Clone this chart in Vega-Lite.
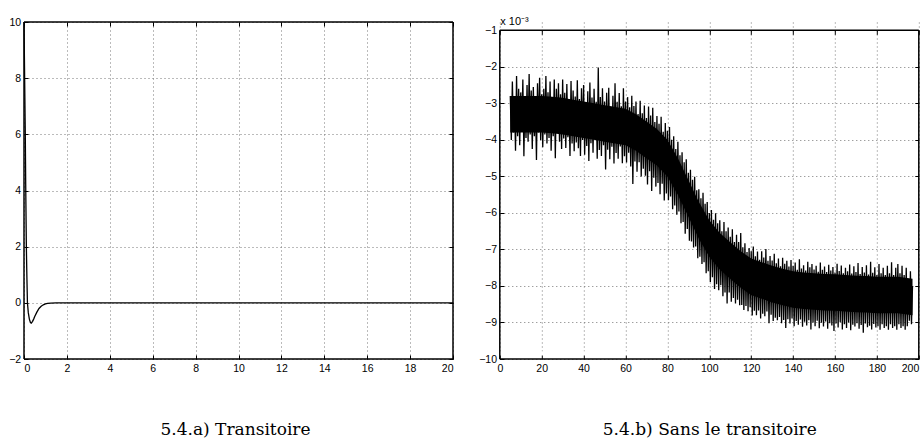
{
  "$schema": "https://vega.github.io/schema/vega-lite/v6.json",
  "background": "white",
  "padding": {"left": 8, "top": 15, "right": 3, "bottom": 0},
  "config": {
    "view": {"stroke": null},
    "axis": {
      "labelFont": "Liberation Sans", "labelFontSize": 10.5, "labelColor": "#000",
      "tickColor": "#000", "tickSize": -4, "tickWidth": 1, "domain": false,
      "gridColor": "#777", "gridDash": [1, 3], "gridWidth": 1,
      "titleFont": "DejaVu Serif", "titleFontSize": 17, "titleFontWeight": "normal", "titleColor": "#000"
    },
    "rule": {"color": "#000", "strokeWidth": 1.5},
    "concat": {"spacing": 21.8}
  },
  "datasets": {
    "transient": [
      {"t": 0, "v": 10}, {"t": 0.03, "v": 8}, {"t": 0.06, "v": 6}, {"t": 0.08, "v": 4.2},
      {"t": 0.11, "v": 2}, {"t": 0.135, "v": 0.9}, {"t": 0.16, "v": 0}, {"t": 0.2, "v": -0.35},
      {"t": 0.25, "v": -0.58}, {"t": 0.3, "v": -0.7}, {"t": 0.34, "v": -0.72}, {"t": 0.4, "v": -0.66},
      {"t": 0.45, "v": -0.58}, {"t": 0.5, "v": -0.49}, {"t": 0.6, "v": -0.33}, {"t": 0.7, "v": -0.2},
      {"t": 0.8, "v": -0.12}, {"t": 0.9, "v": -0.07}, {"t": 1.0, "v": -0.04}, {"t": 1.1, "v": -0.02},
      {"t": 1.25, "v": -0.008}, {"t": 1.5, "v": -0.002}, {"t": 2, "v": 0}, {"t": 20, "v": 0}
    ],
    "core": [
      {"t": 5, "hi": -2.80, "lo": -3.80}, {"t": 10, "hi": -2.80, "lo": -3.80}, {"t": 15, "hi": -2.80, "lo": -3.80},
      {"t": 20, "hi": -2.80, "lo": -3.80}, {"t": 25, "hi": -2.82, "lo": -3.82}, {"t": 30, "hi": -2.85, "lo": -3.85},
      {"t": 35, "hi": -2.90, "lo": -3.90}, {"t": 40, "hi": -2.95, "lo": -3.95}, {"t": 45, "hi": -3.00, "lo": -4.00},
      {"t": 50, "hi": -3.05, "lo": -4.05}, {"t": 55, "hi": -3.10, "lo": -4.10}, {"t": 60, "hi": -3.15, "lo": -4.15},
      {"t": 65, "hi": -3.30, "lo": -4.30}, {"t": 70, "hi": -3.50, "lo": -4.50}, {"t": 75, "hi": -3.70, "lo": -4.70},
      {"t": 80, "hi": -4.00, "lo": -5.00}, {"t": 85, "hi": -4.50, "lo": -5.50}, {"t": 90, "hi": -5.10, "lo": -6.10},
      {"t": 95, "hi": -5.70, "lo": -6.70}, {"t": 100, "hi": -6.20, "lo": -7.20}, {"t": 105, "hi": -6.55, "lo": -7.55},
      {"t": 110, "hi": -6.80, "lo": -7.80}, {"t": 115, "hi": -7.05, "lo": -8.05}, {"t": 120, "hi": -7.25, "lo": -8.25},
      {"t": 125, "hi": -7.35, "lo": -8.35}, {"t": 130, "hi": -7.45, "lo": -8.45}, {"t": 135, "hi": -7.53, "lo": -8.53},
      {"t": 140, "hi": -7.60, "lo": -8.60}, {"t": 145, "hi": -7.63, "lo": -8.63}, {"t": 150, "hi": -7.65, "lo": -8.65},
      {"t": 155, "hi": -7.67, "lo": -8.67}, {"t": 160, "hi": -7.68, "lo": -8.68}, {"t": 165, "hi": -7.70, "lo": -8.70},
      {"t": 170, "hi": -7.72, "lo": -8.72}, {"t": 175, "hi": -7.73, "lo": -8.73}, {"t": 180, "hi": -7.75, "lo": -8.75},
      {"t": 185, "hi": -7.75, "lo": -8.75}, {"t": 190, "hi": -7.75, "lo": -8.75}, {"t": 197, "hi": -7.80, "lo": -8.80}
    ],
    "noise": [
      {"t": 5, "v": -2.80}, {"t": 5.5, "v": -4.00}, {"t": 6, "v": -2.40}, {"t": 6.5, "v": -3.80}, {"t": 7, "v": -2.85},
      {"t": 7.5, "v": -4.30}, {"t": 8, "v": -2.25}, {"t": 8.5, "v": -3.90}, {"t": 9, "v": -2.60}, {"t": 9.5, "v": -4.15},
      {"t": 10, "v": -2.70}, {"t": 10.5, "v": -3.75}, {"t": 11, "v": -2.35}, {"t": 11.5, "v": -4.45}, {"t": 12, "v": -2.80},
      {"t": 12.5, "v": -3.95}, {"t": 13, "v": -2.50}, {"t": 13.5, "v": -4.05}, {"t": 14, "v": -2.20}, {"t": 14.5, "v": -3.85},
      {"t": 15, "v": -2.65}, {"t": 15.5, "v": -4.25}, {"t": 16, "v": -2.55}, {"t": 16.5, "v": -3.90}, {"t": 17, "v": -2.90},
      {"t": 17.5, "v": -4.55}, {"t": 18, "v": -2.45}, {"t": 18.5, "v": -3.80}, {"t": 19, "v": -2.30}, {"t": 19.5, "v": -4.00},
      {"t": 20, "v": -2.75}, {"t": 20.5, "v": -4.20}, {"t": 21, "v": -2.60}, {"t": 21.5, "v": -3.85}, {"t": 22, "v": -2.25},
      {"t": 22.5, "v": -4.10}, {"t": 23, "v": -2.70}, {"t": 23.5, "v": -3.95}, {"t": 24, "v": -2.40}, {"t": 24.5, "v": -4.30},
      {"t": 25, "v": -2.85}, {"t": 25.5, "v": -3.90}, {"t": 26, "v": -2.35}, {"t": 26.5, "v": -4.50}, {"t": 27, "v": -2.60},
      {"t": 27.5, "v": -3.75}, {"t": 28, "v": -2.45}, {"t": 28.5, "v": -4.05}, {"t": 29, "v": -2.75}, {"t": 29.5, "v": -4.25},
      {"t": 30, "v": -2.35}, {"t": 30.5, "v": -3.96}, {"t": 31, "v": -2.71}, {"t": 31.5, "v": -4.22}, {"t": 32, "v": -2.47},
      {"t": 32.5, "v": -3.93}, {"t": 33, "v": -2.88}, {"t": 33.5, "v": -4.44}, {"t": 34, "v": -2.39}, {"t": 34.5, "v": -4.10},
      {"t": 35, "v": -2.65}, {"t": 35.5, "v": -4.31}, {"t": 36, "v": -2.81}, {"t": 36.5, "v": -4.07}, {"t": 37, "v": -2.37},
      {"t": 37.5, "v": -4.23}, {"t": 38, "v": -2.88}, {"t": 38.5, "v": -4.44}, {"t": 39, "v": -2.59}, {"t": 39.5, "v": -4.00},
      {"t": 40, "v": -2.50}, {"t": 40.5, "v": -4.41}, {"t": 41, "v": -3.01}, {"t": 41.5, "v": -4.17}, {"t": 42, "v": -2.67},
      {"t": 42.5, "v": -4.58}, {"t": 43, "v": -2.43}, {"t": 43.5, "v": -4.09}, {"t": 44, "v": -2.84}, {"t": 44.5, "v": -4.35},
      {"t": 45, "v": -2.60}, {"t": 45.5, "v": -4.01}, {"t": 46, "v": -2.96}, {"t": 46.5, "v": -4.52}, {"t": 47, "v": -2.02},
      {"t": 47.5, "v": -4.28}, {"t": 48, "v": -2.83}, {"t": 48.5, "v": -4.44}, {"t": 49, "v": -2.59}, {"t": 49.5, "v": -4.15},
      {"t": 50, "v": -2.95}, {"t": 50.5, "v": -4.81}, {"t": 51, "v": -2.71}, {"t": 51.5, "v": -4.27}, {"t": 52, "v": -2.57},
      {"t": 52.5, "v": -4.53}, {"t": 53, "v": -3.08}, {"t": 53.5, "v": -4.19}, {"t": 54, "v": -2.79}, {"t": 54.5, "v": -4.65},
      {"t": 55, "v": -2.45}, {"t": 55.5, "v": -4.36}, {"t": 56, "v": -2.96}, {"t": 56.5, "v": -4.52}, {"t": 57, "v": -2.72},
      {"t": 57.5, "v": -4.18}, {"t": 58, "v": -3.08}, {"t": 58.5, "v": -4.64}, {"t": 59, "v": -2.59}, {"t": 59.5, "v": -4.45},
      {"t": 60, "v": -2.95}, {"t": 60.5, "v": -4.62}, {"t": 61, "v": -2.83}, {"t": 61.5, "v": -4.35}, {"t": 62, "v": -3.11},
      {"t": 62.5, "v": -4.73}, {"t": 63, "v": -2.79}, {"t": 63.5, "v": -5.21}, {"t": 64, "v": -3.07}, {"t": 64.5, "v": -4.59},
      {"t": 65, "v": -2.95}, {"t": 65.5, "v": -4.87}, {"t": 66, "v": -3.29}, {"t": 66.5, "v": -4.61}, {"t": 67, "v": -2.93},
      {"t": 67.5, "v": -5.00}, {"t": 68, "v": -3.27}, {"t": 68.5, "v": -4.79}, {"t": 69, "v": -3.06}, {"t": 69.5, "v": -4.98},
      {"t": 70, "v": -3.40}, {"t": 70.5, "v": -5.22}, {"t": 71, "v": -3.09}, {"t": 71.5, "v": -4.86}, {"t": 72, "v": -3.33},
      {"t": 72.5, "v": -5.40}, {"t": 73, "v": -3.12}, {"t": 73.5, "v": -5.04}, {"t": 74, "v": -3.51}, {"t": 74.5, "v": -5.28},
      {"t": 75, "v": -3.35}, {"t": 75.5, "v": -5.18}, {"t": 76, "v": -3.56}, {"t": 76.5, "v": -5.49}, {"t": 77, "v": -3.37},
      {"t": 77.5, "v": -5.20}, {"t": 78, "v": -3.78}, {"t": 78.5, "v": -5.66}, {"t": 79, "v": -3.54}, {"t": 79.5, "v": -5.47},
      {"t": 80, "v": -3.75}, {"t": 80.5, "v": -5.65}, {"t": 81, "v": -3.65}, {"t": 81.5, "v": -5.55}, {"t": 82, "v": -4.00},
      {"t": 82.5, "v": -5.90}, {"t": 83, "v": -3.90}, {"t": 83.5, "v": -5.80}, {"t": 84, "v": -4.25}, {"t": 84.5, "v": -6.05},
      {"t": 85, "v": -4.05}, {"t": 85.5, "v": -5.96}, {"t": 86, "v": -4.42}, {"t": 86.5, "v": -6.28}, {"t": 87, "v": -4.34},
      {"t": 87.5, "v": -6.25}, {"t": 88, "v": -4.61}, {"t": 88.5, "v": -6.57}, {"t": 89, "v": -4.53}, {"t": 89.5, "v": -6.44},
      {"t": 90, "v": -4.90}, {"t": 90.5, "v": -6.76}, {"t": 91, "v": -4.82}, {"t": 91.5, "v": -6.78}, {"t": 92, "v": -5.09},
      {"t": 92.5, "v": -6.95}, {"t": 93, "v": -5.01}, {"t": 93.5, "v": -6.92}, {"t": 94, "v": -5.38}, {"t": 94.5, "v": -7.24},
      {"t": 95, "v": -5.35}, {"t": 95.5, "v": -7.20}, {"t": 96, "v": -5.60}, {"t": 96.5, "v": -7.40}, {"t": 97, "v": -5.45},
      {"t": 97.5, "v": -7.35}, {"t": 98, "v": -5.75}, {"t": 98.5, "v": -7.65}, {"t": 99, "v": -5.70}, {"t": 99.5, "v": -7.60},
      {"t": 100, "v": -6.00}, {"t": 100.5, "v": -7.89}, {"t": 101, "v": -5.92}, {"t": 101.5, "v": -7.76}, {"t": 102, "v": -6.19},
      {"t": 102.5, "v": -8.08}, {"t": 103, "v": -6.01}, {"t": 103.5, "v": -7.95}, {"t": 104, "v": -6.28}, {"t": 104.5, "v": -8.12},
      {"t": 105, "v": -6.20}, {"t": 105.5, "v": -7.98}, {"t": 106, "v": -6.50}, {"t": 106.5, "v": -8.28}, {"t": 107, "v": -6.25},
      {"t": 107.5, "v": -8.18}, {"t": 108, "v": -6.50}, {"t": 108.5, "v": -8.48}, {"t": 109, "v": -6.40}, {"t": 109.5, "v": -8.18},
      {"t": 110, "v": -6.65}, {"t": 110.5, "v": -8.43}, {"t": 111, "v": -6.45}, {"t": 111.5, "v": -8.33}, {"t": 112, "v": -6.80},
      {"t": 112.5, "v": -8.48}, {"t": 113, "v": -6.60}, {"t": 113.5, "v": -8.38}, {"t": 114, "v": -6.80}, {"t": 114.5, "v": -8.53},
      {"t": 115, "v": -6.55}, {"t": 115.5, "v": -8.52}, {"t": 116, "v": -6.94}, {"t": 116.5, "v": -8.66}, {"t": 117, "v": -6.83},
      {"t": 117.5, "v": -8.55}, {"t": 118, "v": -7.07}, {"t": 118.5, "v": -8.69}, {"t": 119, "v": -6.96}, {"t": 119.5, "v": -8.58},
      {"t": 120, "v": -7.05}, {"t": 120.5, "v": -8.81}, {"t": 121, "v": -6.92}, {"t": 121.5, "v": -8.68}, {"t": 122, "v": -7.19},
      {"t": 122.5, "v": -8.80}, {"t": 123, "v": -7.06}, {"t": 123.5, "v": -8.67}, {"t": 124, "v": -7.28}, {"t": 124.5, "v": -8.89},
      {"t": 125, "v": -7.05}, {"t": 125.5, "v": -8.76}, {"t": 126, "v": -7.22}, {"t": 126.5, "v": -8.83}, {"t": 127, "v": -6.99},
      {"t": 127.5, "v": -8.70}, {"t": 128, "v": -7.31}, {"t": 128.5, "v": -9.02}, {"t": 129, "v": -7.18}, {"t": 129.5, "v": -8.79},
      {"t": 130, "v": -7.30}, {"t": 130.5, "v": -8.96}, {"t": 131, "v": -7.12}, {"t": 131.5, "v": -8.87}, {"t": 132, "v": -7.38},
      {"t": 132.5, "v": -8.94}, {"t": 133, "v": -7.25}, {"t": 133.5, "v": -8.85}, {"t": 134, "v": -7.46}, {"t": 134.5, "v": -9.02},
      {"t": 135, "v": -7.23}, {"t": 135.5, "v": -8.93}, {"t": 136, "v": -7.39}, {"t": 136.5, "v": -9.15}, {"t": 137, "v": -7.31},
      {"t": 137.5, "v": -8.91}, {"t": 138, "v": -7.47}, {"t": 138.5, "v": -9.03}, {"t": 139, "v": -7.29}, {"t": 139.5, "v": -8.89},
      {"t": 140, "v": -7.45}, {"t": 140.5, "v": -9.10}, {"t": 141, "v": -7.36}, {"t": 141.5, "v": -8.96}, {"t": 142, "v": -7.56},
      {"t": 142.5, "v": -9.06}, {"t": 143, "v": -7.27}, {"t": 143.5, "v": -8.92}, {"t": 144, "v": -7.52}, {"t": 144.5, "v": -9.12},
      {"t": 145, "v": -7.43}, {"t": 145.5, "v": -8.98}, {"t": 146, "v": -7.58}, {"t": 146.5, "v": -9.08}, {"t": 147, "v": -7.34},
      {"t": 147.5, "v": -8.94}, {"t": 148, "v": -7.49}, {"t": 148.5, "v": -9.19}, {"t": 149, "v": -7.40}, {"t": 149.5, "v": -9.00},
      {"t": 150, "v": -7.55}, {"t": 150.5, "v": -9.10}, {"t": 151, "v": -7.45}, {"t": 151.5, "v": -8.95}, {"t": 152, "v": -7.61},
      {"t": 152.5, "v": -9.16}, {"t": 153, "v": -7.36}, {"t": 153.5, "v": -9.01}, {"t": 154, "v": -7.56}, {"t": 154.5, "v": -9.11},
      {"t": 155, "v": -7.47}, {"t": 155.5, "v": -8.97}, {"t": 156, "v": -7.62}, {"t": 156.5, "v": -9.17}, {"t": 157, "v": -7.42},
      {"t": 157.5, "v": -9.02}, {"t": 158, "v": -7.58}, {"t": 158.5, "v": -9.08}, {"t": 159, "v": -7.48}, {"t": 159.5, "v": -9.23},
      {"t": 160, "v": -7.63}, {"t": 160.5, "v": -9.03}, {"t": 161, "v": -7.39}, {"t": 161.5, "v": -9.14}, {"t": 162, "v": -7.59},
      {"t": 162.5, "v": -8.99}, {"t": 163, "v": -7.44}, {"t": 163.5, "v": -9.19}, {"t": 164, "v": -7.65}, {"t": 164.5, "v": -9.05},
      {"t": 165, "v": -7.50}, {"t": 165.5, "v": -9.15}, {"t": 166, "v": -7.60}, {"t": 166.5, "v": -9.00}, {"t": 167, "v": -7.41},
      {"t": 167.5, "v": -9.21}, {"t": 168, "v": -7.66}, {"t": 168.5, "v": -9.06}, {"t": 169, "v": -7.46}, {"t": 169.5, "v": -9.11},
      {"t": 170, "v": -7.62}, {"t": 170.5, "v": -9.02}, {"t": 171, "v": -7.37}, {"t": 171.5, "v": -9.17}, {"t": 172, "v": -7.67},
      {"t": 172.5, "v": -9.07}, {"t": 173, "v": -7.48}, {"t": 173.5, "v": -9.28}, {"t": 174, "v": -7.63}, {"t": 174.5, "v": -9.03},
      {"t": 175, "v": -7.43}, {"t": 175.5, "v": -9.13}, {"t": 176, "v": -7.69}, {"t": 176.5, "v": -9.09}, {"t": 177, "v": -7.34},
      {"t": 177.5, "v": -9.19}, {"t": 178, "v": -7.64}, {"t": 178.5, "v": -9.04}, {"t": 179, "v": -7.49}, {"t": 179.5, "v": -9.14},
      {"t": 180, "v": -7.70}, {"t": 180.5, "v": -9.10}, {"t": 181, "v": -7.40}, {"t": 181.5, "v": -9.20}, {"t": 182, "v": -7.65},
      {"t": 182.5, "v": -9.05}, {"t": 183, "v": -7.50}, {"t": 183.5, "v": -9.15}, {"t": 184, "v": -7.70}, {"t": 184.5, "v": -9.10},
      {"t": 185, "v": -7.45}, {"t": 185.5, "v": -9.20}, {"t": 186, "v": -7.65}, {"t": 186.5, "v": -9.05}, {"t": 187, "v": -7.35},
      {"t": 187.5, "v": -9.15}, {"t": 188, "v": -7.70}, {"t": 188.5, "v": -9.10}, {"t": 189, "v": -7.50}, {"t": 189.5, "v": -9.20},
      {"t": 190, "v": -7.40}, {"t": 190.5, "v": -9.05}, {"t": 191, "v": -7.65}, {"t": 191.5, "v": -9.15}, {"t": 192, "v": -7.45},
      {"t": 192.5, "v": -9.10}, {"t": 193, "v": -7.70}, {"t": 193.5, "v": -9.20}, {"t": 194, "v": -7.50}, {"t": 194.5, "v": -9.10},
      {"t": 195, "v": -7.80}, {"t": 195.5, "v": -8.95}, {"t": 196, "v": -7.60}, {"t": 196.5, "v": -9.05}, {"t": 197, "v": -8.00}
    ]
  },
  "hconcat": [
    {
      "width": 429,
      "height": 337,
      "layer": [
        {
          "data": {"name": "transient"},
          "mark": {"type": "line", "color": "#000", "strokeWidth": 1.3},
          "encoding": {
            "x": {
              "field": "t", "type": "quantitative",
              "scale": {"domain": [0, 20], "nice": false, "zero": false},
              "axis": {"orient": "bottom", "values": [0, 2, 4, 6, 8, 10, 12, 14, 16, 18, 20], "grid": true,
                       "labelPadding": 8.2, "title": "5.4.a) Transitoire", "titlePadding": 48, "titleX": 211}
            },
            "y": {
              "field": "v", "type": "quantitative",
              "scale": {"domain": [-2, 10], "nice": false, "zero": false},
              "axis": {"orient": "left", "values": [-2, 0, 2, 4, 6, 8, 10], "grid": true, "labelPadding": 7.3, "title": null}
            }
          }
        },
        {
          "data": {"values": [{}]},
          "mark": "rule",
          "encoding": {"x": {"datum": 0, "axis": {"orient": "top", "values": [0, 2, 4, 6, 8, 10, 12, 14, 16, 18, 20], "labels": false, "grid": false, "title": null}}}
        },
        {
          "data": {"values": [{}]},
          "mark": "rule",
          "encoding": {"x": {"datum": 20, "axis": null}}
        },
        {
          "data": {"values": [{}]},
          "mark": "rule",
          "encoding": {"y": {"datum": 10, "axis": {"orient": "right", "values": [-2, 0, 2, 4, 6, 8, 10], "labels": false, "grid": false, "title": null}}}
        },
        {
          "data": {"values": [{}]},
          "mark": "rule",
          "encoding": {"y": {"datum": -2, "axis": null}}
        }
      ],
      "resolve": {"axis": {"x": "independent", "y": "independent"}}
    },
    {
      "width": 419,
      "height": 337,
      "layer": [
        {
          "data": {"name": "core"},
          "mark": {"type": "area", "color": "#000", "opacity": 1},
          "encoding": {
            "x": {
              "field": "t", "type": "quantitative",
              "scale": {"domain": [0, 200], "nice": false, "zero": false},
              "axis": {"orient": "bottom", "values": [0, 20, 40, 60, 80, 100, 120, 140, 160, 180, 200], "grid": true,
                       "labelPadding": 8.2, "title": "5.4.b) Sans le transitoire", "titlePadding": 48,
                       "labelAlign": {"condition": {"test": "datum.value === 200", "value": "right"}, "value": "center"}}
            },
            "y": {
              "field": "hi", "type": "quantitative",
              "scale": {"domain": [-10, -1], "nice": false, "zero": false, "range": [337, 8.3]},
              "axis": {"orient": "left", "values": [-10, -9, -8, -7, -6, -5, -4, -3, -2, -1], "grid": true, "labelPadding": 7.3, "title": null}
            },
            "y2": {"field": "lo"}
          }
        },
        {
          "data": {"name": "noise"},
          "mark": {"type": "line", "color": "#000", "strokeWidth": 1.3},
          "encoding": {
            "x": {"field": "t", "type": "quantitative", "axis": null},
            "y": {"field": "v", "type": "quantitative", "axis": null}
          }
        },
        {
          "data": {"values": [{}]},
          "mark": "rule",
          "encoding": {
            "x": {"datum": 0, "axis": {"orient": "top", "offset": -8.3, "values": [0, 20, 40, 60, 80, 100, 120, 140, 160, 180, 200], "labels": false, "grid": false,
                                       "title": "x 10⁻³", "titleFont": "Liberation Sans", "titleFontSize": 11, "titleAnchor": "start", "titleAlign": "left",
                                       "titleBaseline": "alphabetic", "titlePadding": 5}},
            "y": {"datum": -10, "axis": null},
            "y2": {"datum": -1}
          }
        },
        {
          "data": {"values": [{}]},
          "mark": "rule",
          "encoding": {
            "x": {"datum": 200, "axis": null},
            "y": {"datum": -10, "axis": null},
            "y2": {"datum": -1}
          }
        },
        {
          "data": {"values": [{}]},
          "mark": "rule",
          "encoding": {"y": {"datum": -1, "axis": {"orient": "right", "values": [-10, -9, -8, -7, -6, -5, -4, -3, -2, -1], "labels": false, "grid": false, "title": null}}}
        },
        {
          "data": {"values": [{}]},
          "mark": "rule",
          "encoding": {"y": {"datum": -10, "axis": null}}
        }
      ],
      "resolve": {"axis": {"x": "independent", "y": "independent"}}
    }
  ]
}
